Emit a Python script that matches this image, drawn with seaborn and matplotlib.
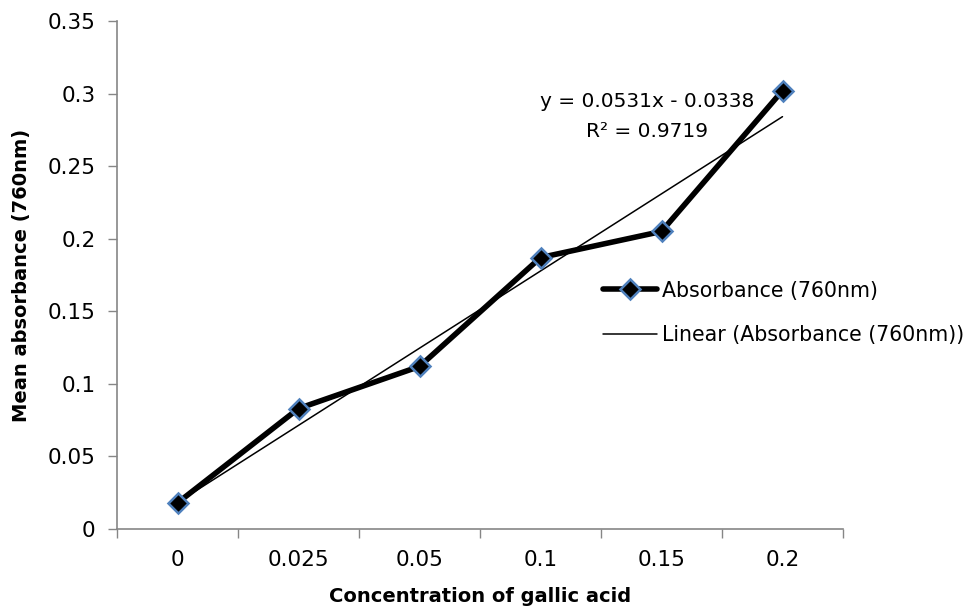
import numpy as np
import pandas as pd
import seaborn as sns
import matplotlib.pyplot as plt

# data
conc_labels = ['0', '0.025', '0.05', '0.1', '0.15', '0.2']
absorbance = [0.018, 0.083, 0.112, 0.187, 0.205, 0.302]
slope, intercept, r2 = 0.0531, -0.0338, 0.9719

sns.set_style('white')
plt.rcParams['font.family'] = ['DejaVu Sans']
plt.rcParams['text.color'] = 'black'
plt.rcParams['xtick.color'] = 'black'
plt.rcParams['ytick.color'] = 'black'
plt.rcParams['axes.labelcolor'] = 'black'
FS = 15.5

df = pd.DataFrame({'pos': np.arange(1, len(conc_labels) + 1), 'abs': absorbance})

fig = plt.figure(figsize=(9.77, 6.15), dpi=100)
ax = fig.add_axes([117 / 977, 86 / 615, 726 / 977, 508 / 615])

# linear trendline (Excel style, x = category index)
sns.regplot(data=df, x='pos', y='abs', ax=ax, scatter=False, ci=None,
            truncate=True, line_kws={'color': 'black', 'lw': 1.1},
            label='Linear (Absorbance (760nm))')
sns.lineplot(data=df, x='pos', y='abs', ax=ax, color='black', lw=4,
             marker='D', markersize=10.5, markerfacecolor='black',
             markeredgecolor='#4F81BD', markeredgewidth=1.8,
             label='Absorbance (760nm)')

ax.set_xlim(0.5, 6.5)
ax.set_ylim(0, 0.35)
ax.set_yticks(np.arange(0, 0.351, 0.05))
ax.set_yticklabels(['0', '0.05', '0.1', '0.15', '0.2', '0.25', '0.3', '0.35'])
ax.set_xticks(np.arange(0.5, 7, 1))
ax.set_xticklabels([])
ax.set_xticks(df['pos'], minor=True)
ax.set_xticklabels(conc_labels, minor=True)
ax.tick_params(axis='x', which='major', direction='out', length=6.5, width=1, color='#868686')
ax.tick_params(axis='x', which='minor', length=0, pad=15, labelsize=FS)
ax.tick_params(axis='y', direction='out', length=6.5, width=1, color='#868686',
               labelsize=FS, pad=9)
ax.tick_params(left=True, bottom=True)

for s in ['top', 'right']:
    ax.spines[s].set_visible(False)
for s in ['left', 'bottom']:
    ax.spines[s].set_color('#868686')
    ax.spines[s].set_linewidth(1.2)

ax.set_xlabel('Concentration of gallic acid', fontsize=14, fontweight='bold', labelpad=12)
ax.set_ylabel('Mean absorbance (760nm)', fontsize=14, fontweight='bold', labelpad=12)

ax.text(4.88, 0.2945, 'y = %.4fx - %.4f' % (slope, -intercept), fontsize=14.5, ha='center', va='center')
ax.text(4.88, 0.2738, 'R² = %.4f' % r2, fontsize=14.5, ha='center', va='center')

h, l = ax.get_legend_handles_labels()
order = [l.index('Absorbance (760nm)'), l.index('Linear (Absorbance (760nm))')]
leg = ax.legend([h[i] for i in order], [l[i] for i in order], loc='upper left',
                bbox_to_anchor=(0.658, 0.505), frameon=False, fontsize=14.8,
                handlelength=2.65, handletextpad=0.2, labelspacing=1.2,
                borderaxespad=0)

fig.savefig('out.png', dpi=100)
